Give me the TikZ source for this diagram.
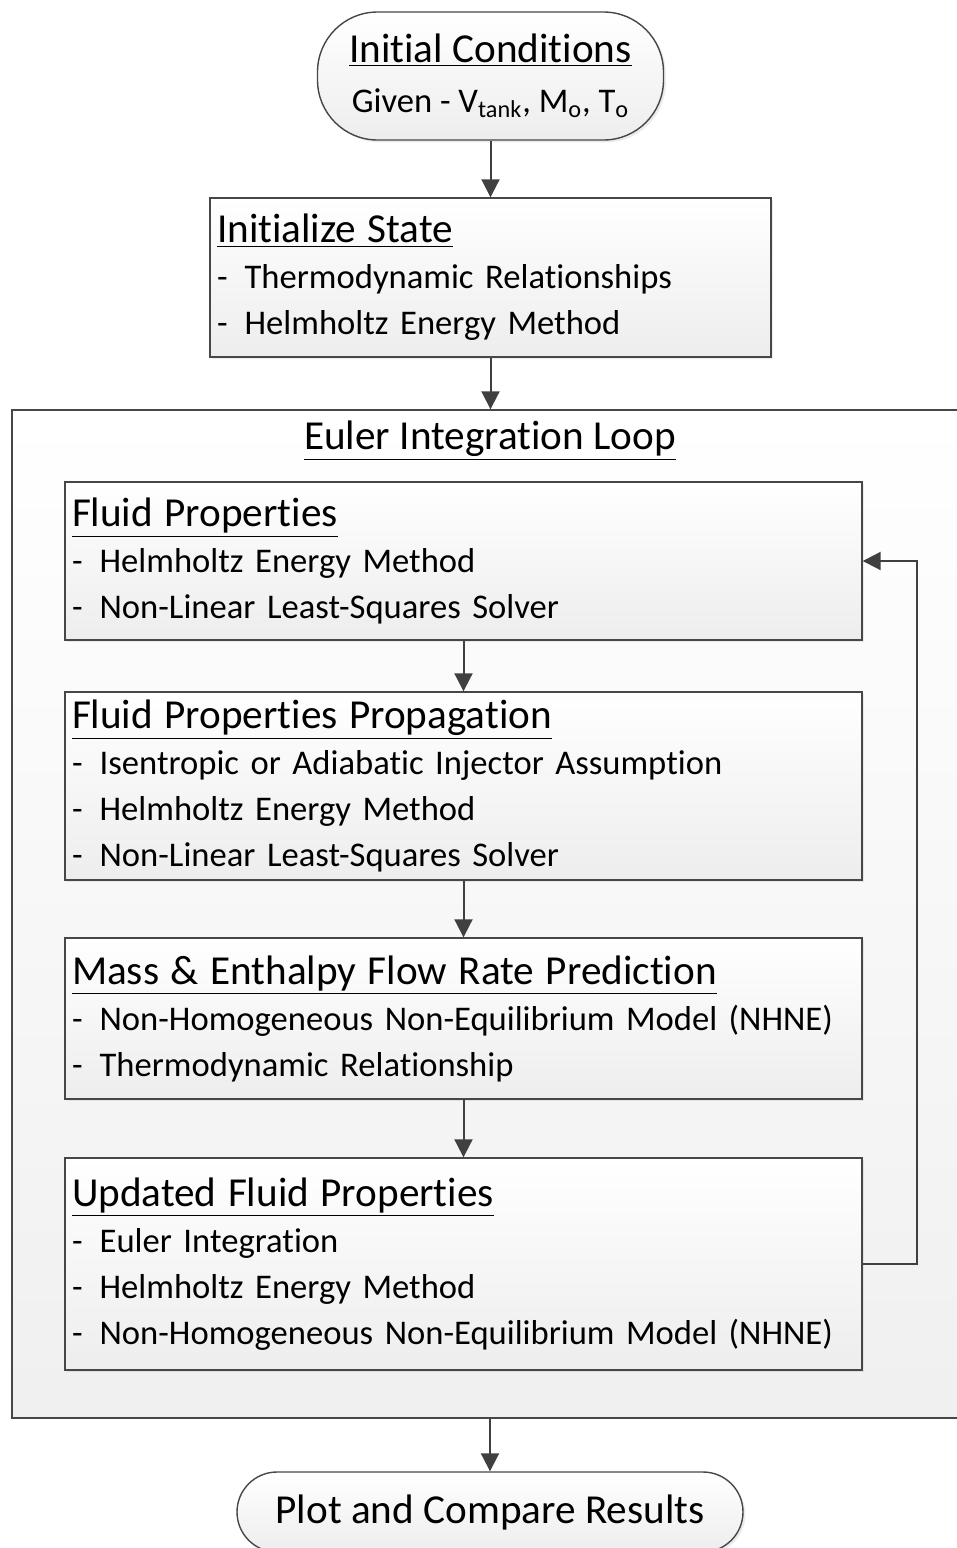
\documentclass[tikz,border=0pt]{standalone}
\usepackage{fontspec}
\setmainfont{Carlito}[Ligatures=NoCommon]
\usetikzlibrary{arrows.meta,shadows}
\newcommand{\dashitem}[1]{\makebox[0.8em][l]{-}#1}
\newcommand{\boxtitle}[1]{{\fontsize{20.6}{23}\selectfont\underline{#1}}}

\begin{document}
\begin{tikzpicture}[x=0.5pt,y=-0.5pt,
    outline/.style={draw=black!72,line width=0.7pt},
    proc/.style={outline,top color=white,bottom color=black!7,
      drop shadow={shadow xshift=1.2pt,shadow yshift=-1.2pt,opacity=0.15},
      inner xsep=3.5pt,inner ysep=0pt,align=left,
      font=\fontsize{17.3}{23}\selectfont},
    term/.style={proc,align=center,inner xsep=0pt},
    arr/.style={draw=black!75,line width=1pt,-{Triangle[length=9pt,width=9pt]}}]
  \useasboundingbox (0,0) rectangle (957,1548);
  % loop frame
  \node[outline,top color=white,bottom color=black!6,minimum width=478pt,minimum height=504pt,inner sep=0pt] (loop) at (490,914) {};
  \node[font=\fontsize{20.6}{23}\selectfont] (looptitle) at (490,441) {\underline{Euler Integration Loop}};
  % start and end
  \node[term,rounded corners=30pt,minimum width=173pt,minimum height=64pt] (ic) at (490.5,76)
    {\boxtitle{Initial Conditions}\\[2pt] Given - V\textsubscript{tank}, M\textsubscript{o}, T\textsubscript{o}};
  \node[term,rounded corners=20pt,minimum width=253pt,minimum height=40pt] (plot) at (490,1512)
    {\fontsize{20.6}{23}\selectfont Plot and Compare Results};
  % process boxes
  \node[proc,text width=273.5pt,minimum height=79.5pt] (init) at (490.5,277.5)
    {\boxtitle{Initialize State}\\ \dashitem{Thermodynamic Relationships}\\ \dashitem{Helmholtz Energy Method}};
  \node[proc,text width=391.5pt,minimum height=79pt] (fp) at (463.5,561)
    {\boxtitle{Fluid Properties}\\ \dashitem{Helmholtz Energy Method}\\ \dashitem{Non-Linear Least-Squares Solver}};
  \node[proc,text width=391.5pt,minimum height=94pt] (prop) at (463.5,786)
    {\boxtitle{Fluid Properties Propagation}\\ \dashitem{Isentropic or Adiabatic Injector Assumption}\\ \dashitem{Helmholtz Energy Method}\\ \dashitem{Non-Linear Least-Squares Solver}};
  \node[proc,text width=391.5pt,minimum height=80.5pt] (mass) at (463.5,1018.5)
    {\boxtitle{Mass \& Enthalpy Flow Rate Prediction}\\ \dashitem{Non-Homogeneous Non-Equilibrium Model (NHNE)}\\ \dashitem{Thermodynamic Relationship}};
  \node[proc,text width=391.5pt,minimum height=106pt] (upd) at (463.5,1264)
    {\boxtitle{Updated Fluid Properties}\\ \dashitem{Euler Integration}\\ \dashitem{Helmholtz Energy Method}\\ \dashitem{Non-Homogeneous Non-Equilibrium Model (NHNE)}};
  % arrows
  \draw[arr] (ic.south) -- (init.north);
  \draw[arr] (init.south) -- (init.south |- loop.north);
  \draw[arr] (fp) -- (prop);
  \draw[arr] (prop) -- (mass);
  \draw[arr] (mass) -- (upd);
  \draw[arr] (upd.east) -- ++(54,0) |- (fp.east);
  \draw[arr] (loop.south) -- (plot.north);
\end{tikzpicture}
\end{document}
